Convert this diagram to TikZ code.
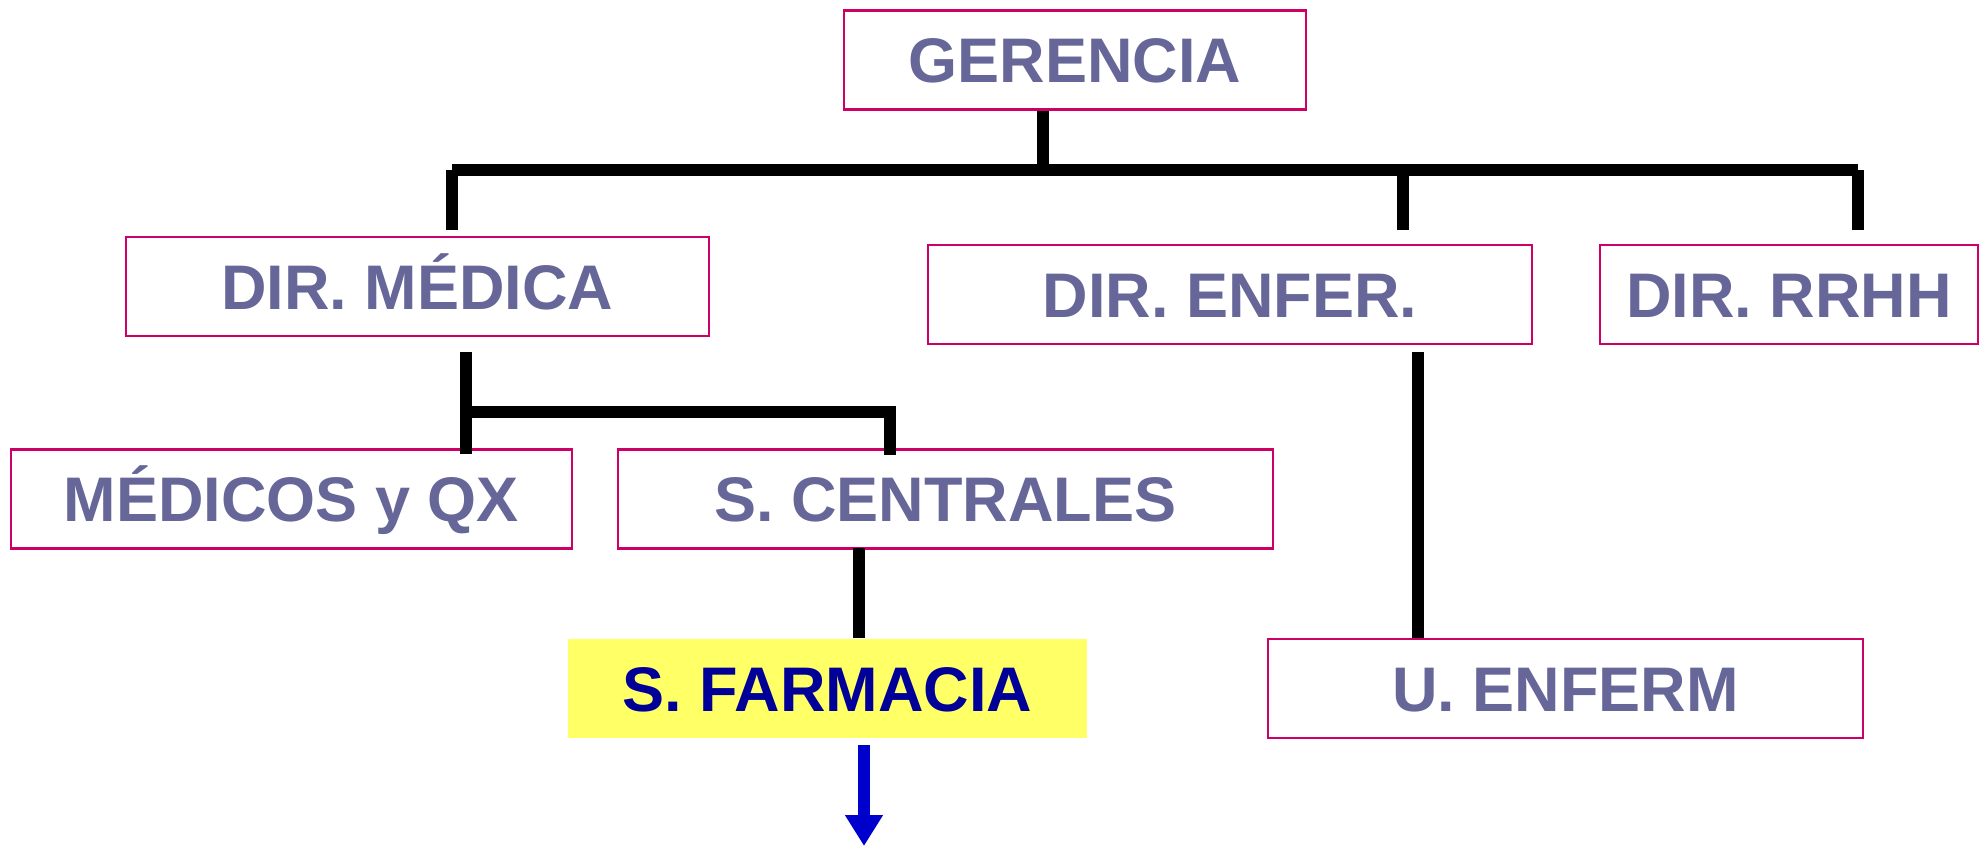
\documentclass[tikz,border=0pt]{standalone}
\usepackage{fontspec}
\setmainfont{Liberation Sans}
\usetikzlibrary{arrows.meta}
\definecolor{boxline}{RGB}{204,0,102}
\definecolor{boxtext}{RGB}{102,102,153}
\definecolor{farmfill}{RGB}{255,255,102}
\definecolor{farmtext}{RGB}{0,0,153}
\definecolor{arrowblue}{RGB}{0,0,204}
\tikzset{
  box/.style={draw=boxline,line width=1.25pt,fill=white,minimum height=49.5pt,inner sep=0pt,
    text height=22.5pt,text depth=0pt,text=boxtext,font=\bfseries\fontsize{31.5}{36}\selectfont},
  conn/.style={line width=6pt}
}
\begin{document}
\begin{tikzpicture}[x=0.5pt,y=-0.5pt]
\useasboundingbox (0,0) rectangle (1981,846);
\node[box,minimum width=231pt] (ger) at (1075,60) {GERENCIA};
\node[box,minimum width=291.5pt] (dmed) at (417.5,286.5) {DIR. MÉDICA};
\node[box,minimum width=302pt] (denf) at (1230,294.5) {DIR. ENFER.};
\node[box,minimum width=189pt] (drrhh) at (1789,294.5) {DIR. RRHH};
\node[box,minimum width=280.5pt] (medq) at (291.5,499) {MÉDICOS y QX};
\node[box,minimum width=327.5pt] (scen) at (945.5,499) {S. CENTRALES};
\node[box,draw=none,fill=farmfill,text=farmtext,minimum width=259.5pt] (sfar) at (827.5,688.5) {S. FARMACIA};
\node[box,minimum width=297.5pt] (uenf) at (1565.5,688.5) {U. ENFERM};
\coordinate (gerJ) at (1043,170);
\coordinate (busL) at (452,170);
\coordinate (busM) at (1403,170);
\coordinate (busR) at (1858,170);
\coordinate (dropY) at (0,230);
\coordinate (medTop) at (466,352);
\coordinate (medJ) at (466,412);
\coordinate (cenJ) at (890,412);
\coordinate (enfTop) at (1418,352);
\coordinate (cenD) at (859,548);
\coordinate (farTop) at (864,745);
\coordinate (farEnd) at (864,846);
\draw[conn] (ger.south -| gerJ)--(gerJ);
\draw[conn] (busL)--(busR);
\draw[conn] (busL)--(busL |- dropY);
\draw[conn] (busM)--(busM |- dropY);
\draw[conn] (busR)--(busR |- dropY);
\draw[conn] (medTop)--([yshift=-3pt]medTop |- medq.north);
\draw[conn] (medJ)--(cenJ)--([yshift=-3.5pt]cenJ |- scen.north);
\draw[conn] (enfTop)--(enfTop |- uenf.north);
\draw[conn] (cenD)--(cenD |- sfar.north);
\draw[conn,arrowblue,-{Triangle[width=18pt,length=15.5pt]}] (farTop)--(farEnd);
\end{tikzpicture}
\end{document}
